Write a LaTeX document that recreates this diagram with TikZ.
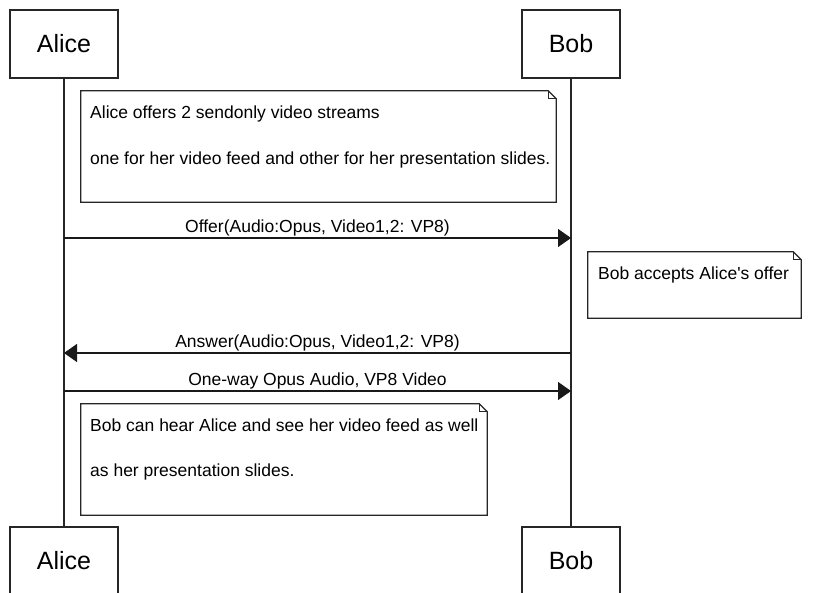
\documentclass[tikz,border=0pt]{standalone}
\usepackage{fontspec}
\setmainfont{Liberation Sans}[Ligatures=TeXOff]
\usetikzlibrary{arrows.meta}
\newcommand\dogear[1]{%
  \draw[noteline] (#1.north west) -- ([xshift=-8pt]#1.north east) -- ([yshift=-8pt]#1.north east) -- (#1.south east) -- (#1.south west) -- cycle;
  \draw[noteline] ([xshift=-8pt]#1.north east) |- ([yshift=-8pt]#1.north east);}
\begin{document}
\begin{tikzpicture}[x=1pt,y=-1pt,
  actor/.style={draw=black!85, line width=1.2pt, fill=white, minimum height=68pt, inner sep=0pt, font=\fontsize{25}{29}\selectfont},
  notebox/.style={draw=none, fill=white, inner sep=0pt},
  noteline/.style={draw=black!85, line width=1.2pt, line join=miter},
  notetext/.style={anchor=west, inner sep=0pt, font=\fontsize{17.5}{21}\selectfont},
  msgtext/.style={inner sep=0pt, font=\fontsize{17.5}{21}\selectfont},
  msg/.style={line width=1.2pt, draw=black!90, -{Triangle[length=13pt,width=18pt]}},
  life/.style={line width=1.2pt, draw=black!85},
]
\useasboundingbox (0,0) rectangle (817,593);
\fill[white] (0,0) rectangle (817,593);
\clip (0,0) rectangle (817,593);

% actors and lifelines
\node[actor, minimum width=108pt] (aliceTop) at (64,44) {Alice};
\node[actor, minimum width=98pt] (bobTop) at (571,44) {Bob};
\node[actor, minimum width=108pt] (aliceBot) at (64,561) {Alice};
\node[actor, minimum width=98pt] (bobBot) at (571,561) {Bob};
\draw[life] (aliceTop.south) -- (aliceBot.north);
\draw[life] (bobTop.south) -- (bobBot.north);

% note 1
\node[notebox, minimum width=475pt, minimum height=111pt] (note1) at (318.5,146.5) {};
\dogear{note1}
\node[notetext] (n1a) at (90,114) {Alice offers 2 sendonly video streams};
\node[notetext] (n1b) at (90,160) {one for her video feed and other for her presentation slides.};

% offer
\coordinate (offA) at (aliceTop.south |- 0,238);
\coordinate (offB) at (bobTop.south |- 0,238);
\draw[msg] (offA) -- (offB) node[msgtext, midway, yshift=10pt] (offerlbl) {Offer(Audio:Opus, Video1,2: VP8)};

% note 2
\node[notebox, minimum width=213pt, minimum height=66pt] (note2) at (694.5,285) {};
\dogear{note2}
\node[notetext] (n2a) at (598,275) {Bob accepts Alice's offer};

% answer
\coordinate (ansA) at (aliceTop.south |- 0,353);
\coordinate (ansB) at (bobTop.south |- 0,353);
\draw[msg] (ansB) -- (ansA) node[msgtext, midway, yshift=10pt] (answerlbl) {Answer(Audio:Opus, Video1,2: VP8)};

% one-way
\coordinate (owA) at (aliceTop.south |- 0,391);
\coordinate (owB) at (bobTop.south |- 0,391);
\draw[msg] (owA) -- (owB) node[msgtext, midway, yshift=10pt] (owlbl) {One-way Opus Audio, VP8 Video};

% note 3
\node[notebox, minimum width=406pt, minimum height=111pt] (note3) at (284,459.5) {};
\dogear{note3}
\node[notetext] (n3a) at (90,425) {Bob can hear Alice and see her video feed as well};
\node[notetext] (n3b) at (90,472) {as her presentation slides.};
\end{tikzpicture}
\end{document}
